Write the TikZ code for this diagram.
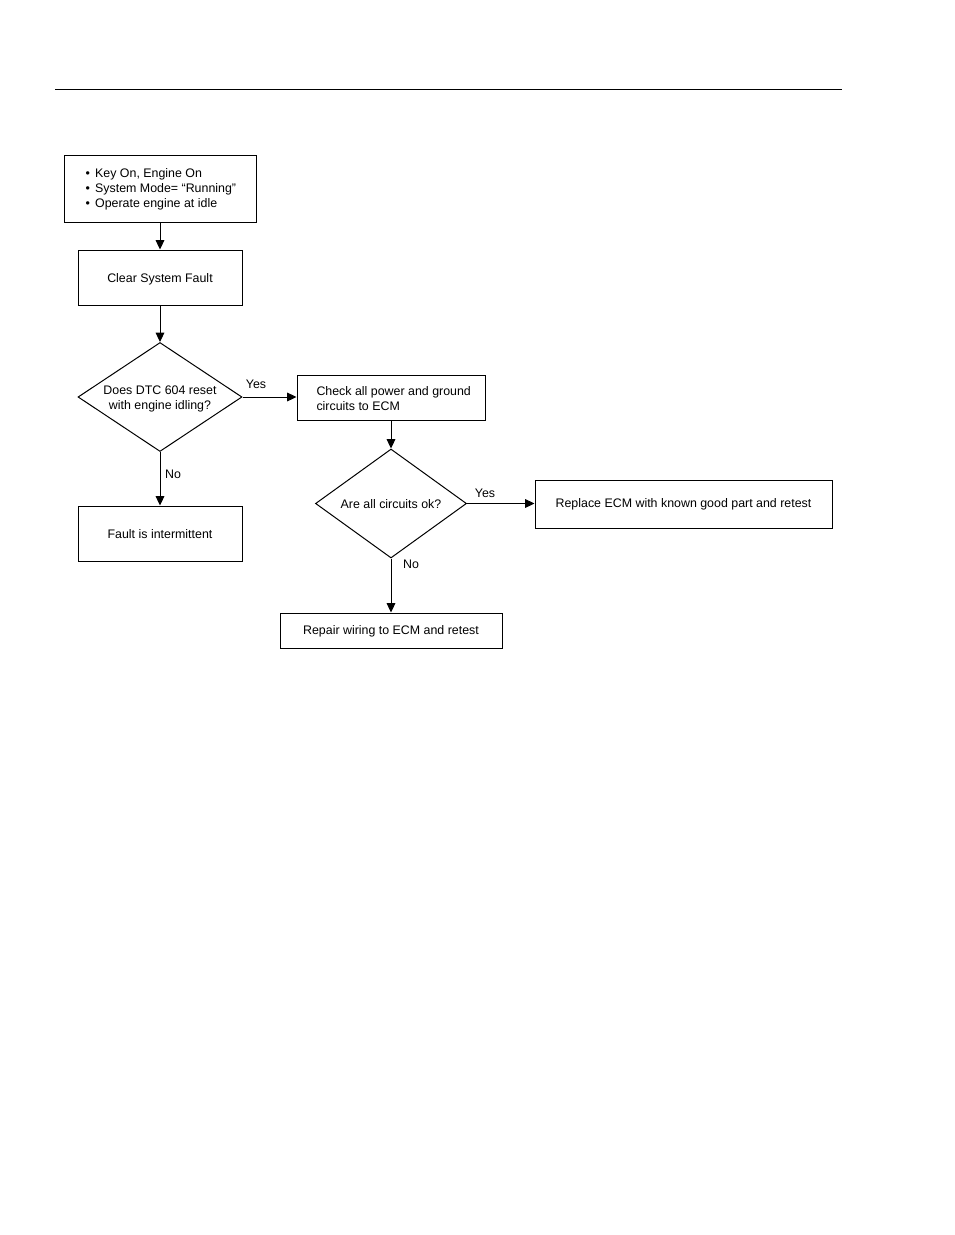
\documentclass[tikz,border=0pt]{standalone}
\usepackage{fontspec}
\setmainfont{Liberation Sans}
\usetikzlibrary{arrows.meta,shapes.geometric}
\begin{document}
\begin{tikzpicture}[x=0.75pt,y=-0.75pt,
  font=\fontsize{9.3}{11.25}\selectfont,
  line width=0.75pt,
  boxrect/.style={draw,rectangle,inner sep=0pt},
  flow/.style={draw,-{Triangle[length=7pt,width=6.5pt]}},
  lbl/.style={inner sep=0pt},
  txt/.style={inner sep=0pt,yshift=-1pt}]
\useasboundingbox (0,0) rectangle (954,1235);
\draw (55,89) -- (842,89);
% boxes
\node[boxrect,minimum width=192*0.75pt,minimum height=67*0.75pt] (b1) at (160,188.5) {};
\node[txt,anchor=west,align=left] (t1) at (85,188) {\textbullet\hspace{4pt}Key On, Engine On\\\textbullet\hspace{4pt}System Mode= “Running”\\\textbullet\hspace{4pt}Operate engine at idle};
\node[boxrect,minimum width=164*0.75pt,minimum height=55*0.75pt] (b2) at (160,277.5) {};
\node[txt] (t2) at (160,277.5) {Clear System Fault};
\node[draw,diamond,aspect=1.5,inner sep=0pt,minimum width=164*0.75pt,minimum height=109*0.75pt] (d1) at (160,397) {};
\node[txt,align=center] (t3) at (160,397.5) {Does DTC 604 reset\\with engine idling?};
\node[boxrect,minimum width=188*0.75pt,minimum height=45*0.75pt] (b3) at (391,397.5) {};
\node[txt,anchor=west,align=left] (t4) at (316,397.5) {Check all power and ground\\circuits to ECM};
\node[boxrect,minimum width=164*0.75pt,minimum height=55*0.75pt] (b4) at (160,533.5) {};
\node[txt] (t5) at (160,533) {Fault is intermittent};
\node[draw,diamond,aspect=1.4,inner sep=0pt,minimum width=151*0.75pt,minimum height=109*0.75pt] (d2) at (391,503.5) {};
\node[txt] (t6) at (391,503) {Are all circuits ok?};
\node[boxrect,minimum width=297*0.75pt,minimum height=48*0.75pt] (b5) at (683.5,504) {};
\node[txt] (t7) at (683.5,503) {Replace ECM with known good part and retest};
\node[boxrect,minimum width=222*0.75pt,minimum height=35*0.75pt] (b6) at (391,630.5) {};
\node[txt] (t8) at (391,630) {Repair wiring to ECM and retest};
% connectors
\draw[flow] (b1.south) -- (b2.north);
\draw[flow] (b2.south) -- (d1.north);
\draw[flow] (d1.east) -- (d1.east -| b3.west);
\node[lbl] (y1) at (256,384) {Yes};
\draw[flow] (d1.south) -- (b4.north);
\node[lbl] (n1) at (173,474) {No};
\draw[flow] (b3.south) -- (d2.north);
\draw[flow] (d2.east) -- (d2.east -| b5.west);
\node[lbl] (y2) at (485,493) {Yes};
\draw[flow] (d2.south) -- (b6.north);
\node[lbl] (n2) at (411,564) {No};
\end{tikzpicture}
\end{document}
